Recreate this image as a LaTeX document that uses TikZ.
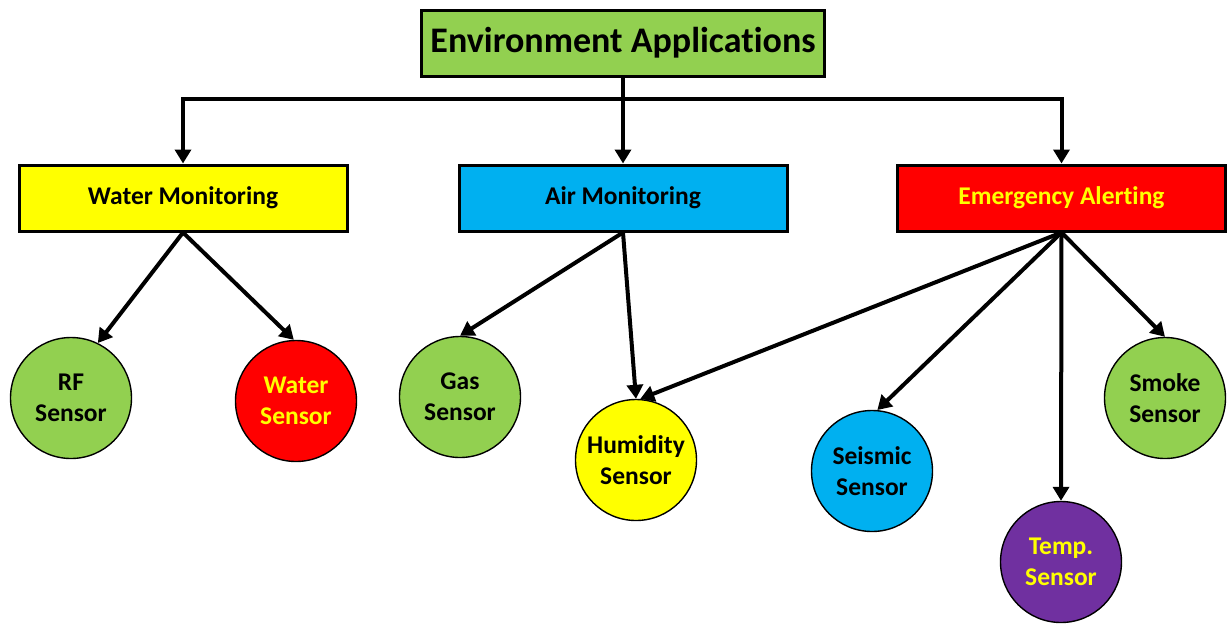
\documentclass[tikz,border=0pt]{standalone}
\usepackage{fontspec}
\setmainfont{Carlito}[Ligatures={NoCommon}]
\usetikzlibrary{arrows.meta}

\definecolor{cgreen}{HTML}{92D050}
\definecolor{cyellow}{HTML}{FFFF00}
\definecolor{cblue}{HTML}{00B0F0}
\definecolor{cred}{HTML}{FF0000}
\definecolor{cpurple}{HTML}{7030A0}

\begin{document}
\begin{tikzpicture}[x=1pt,y=-1pt,
  catbox/.style={draw=black, line width=3pt, inner sep=0pt,
    minimum width=328pt, minimum height=66pt,
    font=\fontsize{25.5}{30}\selectfont\bfseries},
  sensor/.style={circle, draw=black, line width=1.4pt, inner sep=0pt,
    minimum size=121pt, align=center,
    font=\fontsize{25.5}{31}\selectfont\bfseries},
  link/.style={line width=4pt, -{Triangle[length=14pt,width=16pt]}},
  plain/.style={line width=4pt}
]
\useasboundingbox (0,0) rectangle (1227,625);

% root and category boxes
\node[draw=black, line width=3pt, fill=cgreen, inner sep=0pt,
      minimum width=403pt, minimum height=66pt,
      font=\fontsize{36}{40}\selectfont\bfseries]
  (title) at (623,43) {Environment Applications};

\node[catbox, fill=cyellow] (wm) at (183,198) {Water Monitoring};
\node[catbox, fill=cblue]   (am) at (623,198) {Air Monitoring};
\node[catbox, fill=cred, text=cyellow] (em) at (1061.5,198) {Emergency Alerting};

% sensors
\node[sensor, fill=cgreen] (rf)  at (71,398)  {RF\\Sensor};
\node[sensor, fill=cred, text=cyellow] (ws) at (296,401) {Water\\Sensor};
\node[sensor, fill=cgreen] (gas) at (460,397) {Gas\\Sensor};
\node[sensor, fill=cyellow] (hum) at (636,460) {Humidity\\Sensor};
\node[sensor, fill=cblue] (seis) at (872,471) {Seismic\\Sensor};
\node[sensor, fill=cpurple, text=cyellow] (temp) at (1061,562) {Temp.\\Sensor};
\node[sensor, fill=cgreen] (smoke) at (1165,398) {Smoke\\Sensor};

% distribution bar under the root
\coordinate (hm) at (623,99);
\draw[plain] (title.south) -- (hm);
\draw[link] (hm) -| (wm.north);
\draw[link] (hm) -| (em.north);
\draw[link] (hm) -- (am.north);

% water monitoring
\draw[link] (wm.south) -- (rf.64);
\draw[link] (wm.south) -- (ws.92);

% air monitoring
\draw[link] (am.south) -- (gas.north);
\draw[link] (am.south) -- (hum.north);

% emergency alerting
\draw[link] (em.south) -- (hum.86);
\draw[link] (em.south) -- (seis.85);
\draw[link] (em.south) -- (temp.north);
\draw[link] (em.south) -- (smoke.north);
\end{tikzpicture}
\end{document}
